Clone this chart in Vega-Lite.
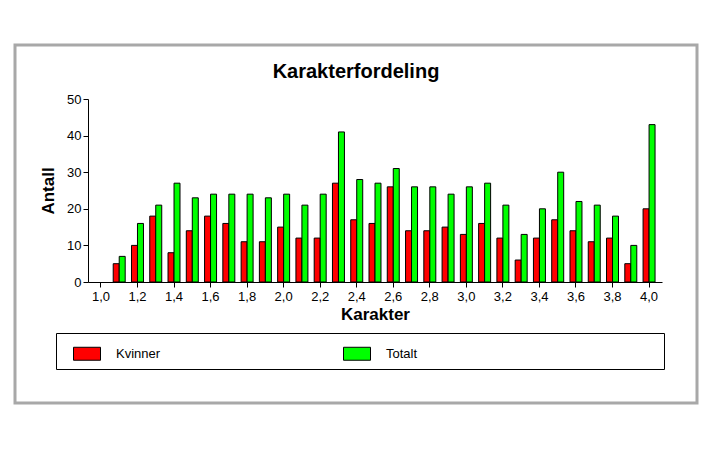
{
  "$schema": "https://vega.github.io/schema/vega-lite/v6.json",
  "autosize": "none",
  "width": 682,
  "height": 358,
  "padding": {"left": 15, "top": 45, "right": 19, "bottom": 69},
  "background": "white",
  "config": {
    "view": {"stroke": "#a8a8a8", "strokeWidth": 3, "fill": "white"},
    "font": "Liberation Sans",
    "axis": {
      "domainColor": "black",
      "tickColor": "black",
      "labelColor": "black",
      "titleColor": "black",
      "labelFont": "Liberation Sans",
      "labelFontSize": 13,
      "labelFontWeight": "normal",
      "titleFont": "Liberation Sans",
      "titleFontSize": 17,
      "titleFontWeight": "bold",
      "tickSize": 5,
      "grid": false
    }
  },
  "title": {
    "text": "Karakterfordeling",
    "anchor": "middle",
    "frame": "group",
    "font": "Liberation Sans",
    "fontSize": 20,
    "fontWeight": "bold",
    "color": "black",
    "baseline": "alphabetic",
    "offset": 0,
    "dy": 53
  },
  "data": {
    "values": [
      {"karakter": "1,1", "serie": "Kvinner", "antall": 5}, {"karakter": "1,1", "serie": "Totalt", "antall": 7},
      {"karakter": "1,2", "serie": "Kvinner", "antall": 10}, {"karakter": "1,2", "serie": "Totalt", "antall": 16},
      {"karakter": "1,3", "serie": "Kvinner", "antall": 18}, {"karakter": "1,3", "serie": "Totalt", "antall": 21},
      {"karakter": "1,4", "serie": "Kvinner", "antall": 8}, {"karakter": "1,4", "serie": "Totalt", "antall": 27},
      {"karakter": "1,5", "serie": "Kvinner", "antall": 14}, {"karakter": "1,5", "serie": "Totalt", "antall": 23},
      {"karakter": "1,6", "serie": "Kvinner", "antall": 18}, {"karakter": "1,6", "serie": "Totalt", "antall": 24},
      {"karakter": "1,7", "serie": "Kvinner", "antall": 16}, {"karakter": "1,7", "serie": "Totalt", "antall": 24},
      {"karakter": "1,8", "serie": "Kvinner", "antall": 11}, {"karakter": "1,8", "serie": "Totalt", "antall": 24},
      {"karakter": "1,9", "serie": "Kvinner", "antall": 11}, {"karakter": "1,9", "serie": "Totalt", "antall": 23},
      {"karakter": "2,0", "serie": "Kvinner", "antall": 15}, {"karakter": "2,0", "serie": "Totalt", "antall": 24},
      {"karakter": "2,1", "serie": "Kvinner", "antall": 12}, {"karakter": "2,1", "serie": "Totalt", "antall": 21},
      {"karakter": "2,2", "serie": "Kvinner", "antall": 12}, {"karakter": "2,2", "serie": "Totalt", "antall": 24},
      {"karakter": "2,3", "serie": "Kvinner", "antall": 27}, {"karakter": "2,3", "serie": "Totalt", "antall": 41},
      {"karakter": "2,4", "serie": "Kvinner", "antall": 17}, {"karakter": "2,4", "serie": "Totalt", "antall": 28},
      {"karakter": "2,5", "serie": "Kvinner", "antall": 16}, {"karakter": "2,5", "serie": "Totalt", "antall": 27},
      {"karakter": "2,6", "serie": "Kvinner", "antall": 26}, {"karakter": "2,6", "serie": "Totalt", "antall": 31},
      {"karakter": "2,7", "serie": "Kvinner", "antall": 14}, {"karakter": "2,7", "serie": "Totalt", "antall": 26},
      {"karakter": "2,8", "serie": "Kvinner", "antall": 14}, {"karakter": "2,8", "serie": "Totalt", "antall": 26},
      {"karakter": "2,9", "serie": "Kvinner", "antall": 15}, {"karakter": "2,9", "serie": "Totalt", "antall": 24},
      {"karakter": "3,0", "serie": "Kvinner", "antall": 13}, {"karakter": "3,0", "serie": "Totalt", "antall": 26},
      {"karakter": "3,1", "serie": "Kvinner", "antall": 16}, {"karakter": "3,1", "serie": "Totalt", "antall": 27},
      {"karakter": "3,2", "serie": "Kvinner", "antall": 12}, {"karakter": "3,2", "serie": "Totalt", "antall": 21},
      {"karakter": "3,3", "serie": "Kvinner", "antall": 6}, {"karakter": "3,3", "serie": "Totalt", "antall": 13},
      {"karakter": "3,4", "serie": "Kvinner", "antall": 12}, {"karakter": "3,4", "serie": "Totalt", "antall": 20},
      {"karakter": "3,5", "serie": "Kvinner", "antall": 17}, {"karakter": "3,5", "serie": "Totalt", "antall": 30},
      {"karakter": "3,6", "serie": "Kvinner", "antall": 14}, {"karakter": "3,6", "serie": "Totalt", "antall": 22},
      {"karakter": "3,7", "serie": "Kvinner", "antall": 11}, {"karakter": "3,7", "serie": "Totalt", "antall": 21},
      {"karakter": "3,8", "serie": "Kvinner", "antall": 12}, {"karakter": "3,8", "serie": "Totalt", "antall": 18},
      {"karakter": "3,9", "serie": "Kvinner", "antall": 5}, {"karakter": "3,9", "serie": "Totalt", "antall": 10},
      {"karakter": "4,0", "serie": "Kvinner", "antall": 20}, {"karakter": "4,0", "serie": "Totalt", "antall": 43}
    ]
  },
  "mark": {"type": "bar", "stroke": "black", "strokeWidth": 1},
  "encoding": {
    "x": {
      "field": "karakter",
      "type": "nominal",
      "sort": null,
      "scale": {
        "domain": ["1,0","1,1","1,2","1,3","1,4","1,5","1,6","1,7","1,8","1,9","2,0","2,1","2,2","2,3","2,4","2,5","2,6","2,7","2,8","2,9","3,0","3,1","3,2","3,3","3,4","3,5","3,6","3,7","3,8","3,9","4,0"],
        "range": [73, 647],
        "paddingInner": 0.344,
        "paddingOuter": 0.38
      },
      "axis": {
        "title": "Karakter",
        "offset": -121,
        "values": ["1,0","1,2","1,4","1,6","1,8","2,0","2,2","2,4","2,6","2,8","3,0","3,2","3,4","3,6","3,8","4,0"],
        "labelAngle": 0,
        "labelPadding": 3,
        "titlePadding": 3
      }
    },
    "xOffset": {
      "field": "serie",
      "type": "nominal",
      "scale": {"domain": ["Kvinner", "Totalt"], "paddingInner": 0, "paddingOuter": 0}
    },
    "y": {
      "field": "antall",
      "type": "quantitative",
      "scale": {"domain": [0, 50], "range": [237, 54], "nice": false},
      "axis": {
        "title": "Antall",
        "offset": -73,
        "values": [0, 10, 20, 30, 40, 50],
        "labelPadding": 2,
        "titlePadding": 9
      }
    },
    "color": {
      "field": "serie",
      "type": "nominal",
      "scale": {"domain": ["Kvinner", "Totalt"], "range": ["#ff0000", "#00ff00"]},
      "legend": {
        "title": null,
        "orient": "none",
        "legendX": 41,
        "legendY": 288,
        "direction": "horizontal",
        "strokeColor": "black",
        "padding": 6.5,
        "symbolType": "M-1,-0.48H1V0.48H-1Z",
        "symbolSize": 729,
        "symbolStrokeColor": "black",
        "symbolStrokeWidth": 1,
        "symbolOpacity": 1,
        "symbolOffset": 10.5,
        "labelOffset": 15,
        "labelFont": "Liberation Sans",
        "labelFontSize": 13,
        "labelColor": "black",
        "labelLimit": 400,
        "columnPadding": 172,
        "labelExpr": "datum.label == 'Totalt' ? 'Totalt' + '\u2800\u2800\u2800\u2800\u2800\u2800\u2800\u2800\u2800\u2800\u2800\u2800\u2800\u2800\u2800\u2800\u2800\u2800\u2800\u2800\u2800\u2800\u2800\u2800' : datum.label"
      }
    }
  }
}
